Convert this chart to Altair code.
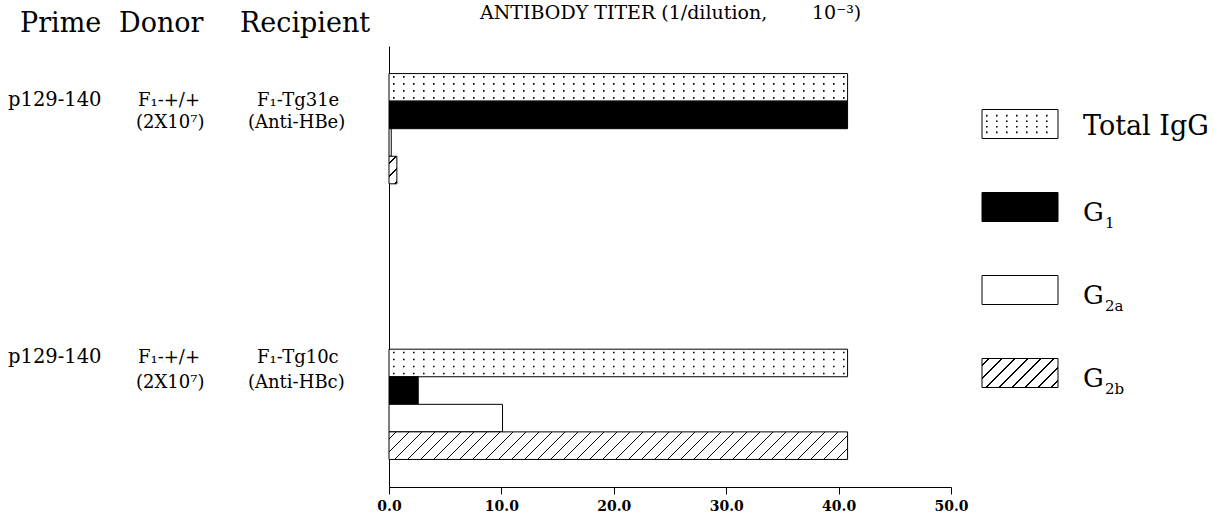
import altair as alt
import pandas as pd

# ---------------- data ----------------
groups = ["g1", "g2"]
series = ["Total IgG", "G1", "G2a", "G2b"]
g1_values = [40.8, 40.8, 0.2, 0.7]
g2_values = [40.8, 2.6, 10.1, 40.8]
x_ticks = [0, 10, 20, 30, 40, 50]

prime_labels = ["p129-140", "p129-140"]
donor_labels = ["F\u2081-+/+", "F\u2081-+/+"]
donor_sub = ["(2X10\u2077)", "(2X10\u2077)"]
recip_labels = ["F\u2081-Tg31e", "F\u2081-Tg10c"]
recip_sub = ["(Anti-HBe)", "(Anti-HBc)"]
header_words = ["Prime", "Donor", "Recipient"]
title_parts = ["ANTIBODY TITER (1/dilution,", "10\u207b\u00b3)"]

rows = []
for g, vals in zip(groups, [g1_values, g2_values]):
    for s, v in zip(series, vals):
        rows.append({"row": f"{g}-{s}", "series": s, "value": v, "start": 0})
df = pd.DataFrame(rows)

row_domain = (["pad0"] + [f"g1-{s}" for s in series] +
              [f"pad{i}" for i in range(5, 11)] +
              [f"g2-{s}" for s in series] + ["pad15"])

# ---------------- layout ----------------
CW, CH = 1221, 525
X0, Y0 = 389, 46
W, H = 562, 441
BAND = H / len(row_domain)
PX = W / 50.0
SERIF = "DejaVu Serif"

x_scale = alt.Scale(domain=[0, 50], nice=False, zero=True)
x_axis = alt.Axis(values=x_ticks, format=".1f", title=None, grid=False,
                  tickSize=7, tickColor="black", domainColor="black",
                  labelFlush=False, labelFont=SERIF, labelFontSize=14,
                  labelFontWeight="bold", labelColor="black", labelPadding=5)
y_scale = alt.Scale(domain=row_domain, paddingInner=0, paddingOuter=0)
y_axis = alt.Axis(labels=False, ticks=False, title=None, grid=False,
                  domainColor="black")


def X(field):
    return alt.X(f"{field}:Q", scale=x_scale, axis=x_axis)


def Y():
    return alt.Y("row:N", scale=y_scale, axis=y_axis)


def hatch(w, h, period=13.0, lw=1.5):
    L = w + h
    s = L / (w * w + h * h)
    stops = [{"offset": 0, "color": "white"}]
    k = 0
    while True:
        a = (k * period + period * 0.5) / L
        if a >= 1:
            break
        b = min(a + lw / L, 1)
        stops += [{"offset": a, "color": "white"}, {"offset": a, "color": "black"},
                  {"offset": b, "color": "black"}, {"offset": b, "color": "white"}]
        k += 1
    stops.append({"offset": 1, "color": "white"})
    return {"gradient": "linear", "x1": 0, "y1": 0, "x2": w * s, "y2": h * s,
            "stops": stops}


DOT_OFFSETS = [-10.5, -3.5, 3.5, 10.5]
DOT_DASH = [1.6, 8.4]

layers = []
base = alt.Chart(df)

# Total IgG (dotted)
layers.append(base.transform_filter(alt.datum.series == "Total IgG")
              .mark_bar(fill="white", stroke="black", strokeWidth=1)
              .encode(x=X("value"), y=Y()))
for o in DOT_OFFSETS:
    layers.append(base.transform_filter(alt.datum.series == "Total IgG")
                  .mark_rule(color="black", strokeWidth=1.6, strokeDash=DOT_DASH,
                             strokeDashOffset=-4, yOffset=o)
                  .encode(x=X("start"), x2="value:Q", y=Y()))
# G1 (black)
layers.append(base.transform_filter(alt.datum.series == "G1")
              .mark_bar(fill="black", stroke="black", strokeWidth=1)
              .encode(x=X("value"), y=Y()))
# G2a (white)
layers.append(base.transform_filter(alt.datum.series == "G2a")
              .mark_bar(fill="white", stroke="black", strokeWidth=1)
              .encode(x=X("value"), y=Y()))
# G2b (hatched) - one layer per bar so the hatch keeps its angle
for g, vals in zip(groups, [g1_values, g2_values]):
    v = vals[3]
    layers.append(base.transform_filter(alt.datum.row == f"{g}-G2b")
                  .mark_bar(fill=hatch(v * PX, BAND), stroke="black", strokeWidth=1)
                  .encode(x=X("value"), y=Y()))


# ---------------- text annotations ----------------
def label(txt, x, y, size, align="left", weight="normal"):
    return (alt.Chart(pd.DataFrame({"t": [txt]}))
            .mark_text(align=align, baseline="alphabetic", font=SERIF,
                       fontSize=size, fontWeight=weight, color="black")
            .encode(x=alt.value(x - X0), y=alt.value(y - Y0), text="t:N"))


for word, x in zip(header_words, [20, 119, 240]):
    layers.append(label(word, x, 32, 27))
for part, x in zip(title_parts, [480, 812]):
    layers.append(label(part, x, 19, 19))

line1 = [106, 363]
line2 = [128, 388]
for i in range(2):
    layers += [
        label(prime_labels[i], 8, line1[i], 19.5),
        label(donor_labels[i], 138, line1[i], 18),
        label(donor_sub[i], 136, line2[i], 18),
        label(recip_labels[i], 257, line1[i], 18),
        label(recip_sub[i], 248, line2[i], 18),
    ]

# ---------------- legend ----------------
LX1, LX2 = 982, 1058
LY = [124, 207, 290, 373]
LH = 29
legend_df = pd.DataFrame({"label": series})


def legend_box(i, **kw):
    yc = LY[i]
    return (alt.Chart(legend_df).transform_filter(alt.datum.label == series[i])
            .mark_rect(stroke="black", strokeWidth=1, **kw)
            .encode(x=alt.value(LX1 - X0), x2=alt.value(LX2 - X0),
                    y=alt.value(yc - LH / 2 - Y0), y2=alt.value(yc + LH / 2 - Y0)))


layers.append(legend_box(0, fill="white"))
for o in [-10.5, -3.5, 3.5, 10.5]:
    layers.append(alt.Chart(legend_df).transform_filter(alt.datum.label == series[0])
                  .mark_rule(color="black", strokeWidth=1.6, strokeDash=DOT_DASH)
                  .encode(x=alt.value(LX1 + 4 - X0), x2=alt.value(LX2 - 3 - X0),
                          y=alt.value(LY[0] + o * 0.8 - Y0)))
layers.append(legend_box(1, fill="black"))
layers.append(legend_box(2, fill="white"))
layers.append(legend_box(3, fill=hatch(LX2 - LX1, LH)))

TX = 1083
layers.append(label(series[0], TX, LY[0] + 11, 27))
subs = ["1", "2a", "2b"]
for i, sub in enumerate(subs, start=1):
    layers.append(label("G", TX, LY[i] + 14, 26))
    layers.append(label(sub, TX + 22, LY[i] + 21, 15))

chart = (alt.layer(*layers)
         .properties(width=W, height=H,
                     padding={"left": X0, "top": Y0, "right": CW - X0 - W,
                              "bottom": CH - Y0 - H},
                     autosize=alt.AutoSizeParams(type="none"),
                     background="white")
         .configure_view(stroke=None))

chart.save("out.html", embed_options={"renderer": "svg", "actions": False})
